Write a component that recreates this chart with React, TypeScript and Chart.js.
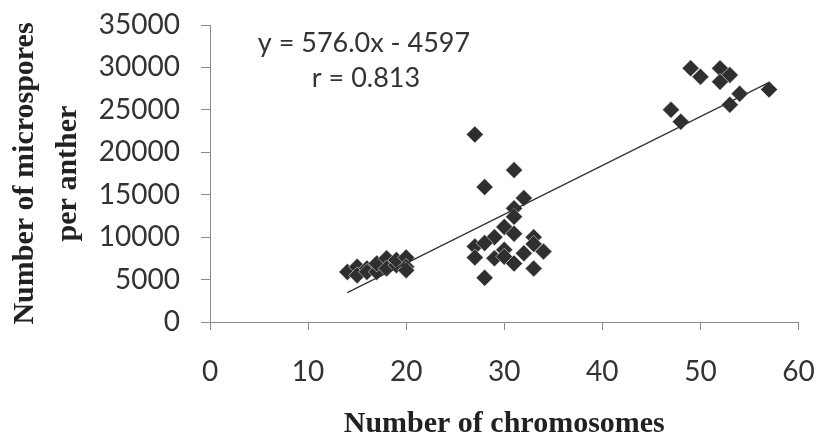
import React, { useEffect, useRef } from "react";
import { Chart, registerables } from "chart.js";

Chart.register(...registerables);

// Chromosome number (x) and microspores per anther (y)
const lowX = [14, 15, 15, 16, 16, 17, 17, 18, 18, 19, 19, 20, 20, 20];
const lowY = [5900, 6500, 5500, 6300, 5900, 5900, 6900, 7500, 6300, 6700, 7300, 7600, 6500, 6100];
const midX = [27, 31, 28, 32, 31, 31, 30, 29, 27, 27, 28, 29, 30, 30, 31, 33, 32, 34, 33, 28, 31, 33];
const midY = [22100, 17900, 15900, 14600, 13400, 12400, 11200, 10000, 8900, 7600, 9300, 7500, 8500, 7700, 6900, 10000, 8100, 8300, 6300, 5200, 10400, 9200];
const highX = [49, 50, 52, 53, 52, 57, 54, 53, 47, 48];
const highY = [29900, 28900, 29900, 29100, 28300, 27400, 26900, 25600, 25000, 23600];

const slope = 576.0;
const intercept = -4597;
const trendX = [14, 57];
const equationText = "y = 576.0x - 4597";
const rText = "r = 0.813";

const xTicks = [0, 10, 20, 30, 40, 50, 60];
const yTicks = [0, 5000, 10000, 15000, 20000, 25000, 30000, 35000];

const points = [
  ...lowX.map((x, i) => ({ x, y: lowY[i] })),
  ...midX.map((x, i) => ({ x, y: midY[i] })),
  ...highX.map((x, i) => ({ x, y: highY[i] })),
];

export default function App() {
  const ref = useRef<HTMLCanvasElement>(null);
  useEffect(() => {
    if (!ref.current) return;
    const eqPlugin = {
      id: "eq",
      afterDraw(chart: any) {
        const ctx = chart.ctx;
        ctx.save();
        ctx.fillStyle = "#333";
        ctx.font = "27px Lato";
        ctx.textAlign = "center";
        ctx.textBaseline = "middle";
        ctx.fillText(equationText, 364, 43);
        ctx.fillText(rText, 366, 78);
        ctx.restore();
      },
    };
    const axisColor = "#8a8a8a";
    const tickFont = { family: "Lato", size: 28 };
    const chart = new Chart(ref.current, {
      type: "scatter",
      data: {
        datasets: [
          {
            type: "line",
            data: trendX.map((x) => ({ x, y: slope * x + intercept })),
            borderColor: "#333",
            borderWidth: 1.3,
            pointRadius: 0,
            fill: false,
            order: 0,
          } as any,
          {
            data: points,
            pointStyle: "rectRot",
            pointRadius: 8.5,
            backgroundColor: "#2f2f2f",
            borderColor: "rgba(235,235,235,0.7)",
            borderWidth: 0.8,
            order: 1,
          },
        ],
      },
      options: {
        responsive: false,
        animation: false,
        layout: { padding: 0 },
        plugins: { legend: { display: false }, tooltip: { enabled: false } },
        scales: {
          x: {
            type: "linear",
            min: 0,
            max: 60,
            afterBuildTicks: (s: any) => {
              s.ticks = xTicks.map((v) => ({ value: v }));
            },
            afterFit: (s: any) => {
              s.height = 119;
              s.paddingRight = 19.5;
              s.paddingLeft = 0;
            },
            ticks: { font: tickFont, color: "#333", padding: 25, callback: (v: any) => String(v) },
            grid: { drawOnChartArea: false, drawTicks: true, tickLength: 8, color: axisColor },
            border: { color: axisColor, width: 1 },
            title: {
              display: true,
              text: "Number of chromosomes",
              font: { family: "Liberation Serif", size: 30, weight: "bold", lineHeight: 1.1 },
              color: "#222",
              padding: { top: 0, bottom: 0 },
            },
          },
          y: {
            type: "linear",
            min: 0,
            max: 35000,
            afterBuildTicks: (s: any) => {
              s.ticks = yTicks.map((v) => ({ value: v }));
            },
            afterFit: (s: any) => {
              s.width = 210;
              s.paddingTop = 25;
              s.paddingBottom = 0;
            },
            ticks: { font: tickFont, color: "#333", padding: 21, callback: (v: any) => String(v) },
            grid: { drawOnChartArea: false, drawTicks: true, tickLength: 9, color: axisColor },
            border: { color: axisColor, width: 1 },
            title: {
              display: true,
              text: ["Number of microspores", "per anther"],
              font: { family: "Liberation Serif", size: 30, weight: "bold", lineHeight: 1.43 },
              color: "#222",
              padding: { top: 4, bottom: 0 },
            },
          },
        },
      },
      plugins: [eqPlugin],
    });
    return () => chart.destroy();
  }, []);
  return (
    <div style={{ position: "absolute", left: 0, top: 0, width: 818, height: 441, background: "#fff" }}>
      <canvas ref={ref} width={818} height={441} style={{ display: "block" }} />
    </div>
  );
}
